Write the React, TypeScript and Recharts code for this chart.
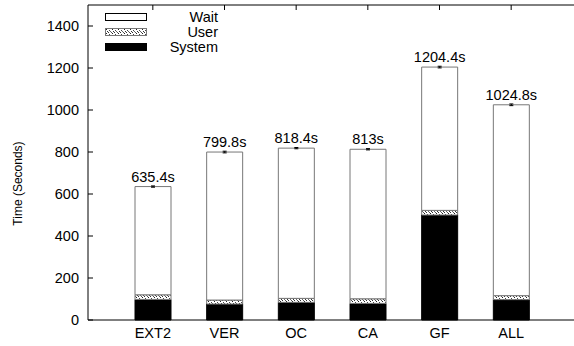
import { BarChart, Bar, XAxis, YAxis, Legend, LabelList, ErrorBar } from "recharts";

const categories = ["EXT2", "VER", "OC", "CA", "GF", "ALL"];
const totalTimes = [635.4, 799.8, 818.4, 813, 1204.4, 1024.8];
const systemTimes = [98, 76, 84, 79, 500, 97];
const userTimes = [22, 19, 19, 22, 22, 19];
const totalErrors = [3, 4, 3, 3, 4, 4];
const yTicks = [0, 200, 400, 600, 800, 1000, 1200, 1400];

const data = categories.map((name, i) => ({
  name,
  system: systemTimes[i],
  user: userTimes[i],
  wait: +(totalTimes[i] - systemTimes[i] - userTimes[i]).toFixed(1),
  total: totalTimes[i],
  err: totalErrors[i],
}));

const font = '"Liberation Sans", Arial, Helvetica, sans-serif';
const xPad = { left: 29, right: 29 };

const legendFill: Record<string, string> = {
  wait: "#fff",
  user: "url(#userDotsLegend)",
  system: "#000",
};
const legendStroke: Record<string, string> = {
  wait: "#000",
  user: "#777",
  system: "#000",
};

// speckled fill used for the "User" share
function DotPattern({ id }: { id: string }) {
  return (
    <pattern id={id} width={6} height={4} patternUnits="userSpaceOnUse">
      <rect width={6} height={4} fill="#fff" />
      <rect x={0} y={0} width={1} height={1} fill="#333" />
      <rect x={3} y={0} width={1} height={1} fill="#555" />
      <rect x={4} y={1} width={1} height={1} fill="#222" />
      <rect x={1} y={2} width={1} height={1} fill="#444" />
      <rect x={5} y={3} width={1} height={1} fill="#333" />
      <rect x={2} y={3} width={1} height={1} fill="#666" />
    </pattern>
  );
}

function LeftTick({ x, y, payload }: any) {
  return (
    <g>
      <line x1={x + 9} x2={x + 14} y1={y} y2={y} stroke="#000" />
      <text x={x} y={y} dy="0.35em" textAnchor="end" fontSize={14.5} fontFamily={font} fill="#000">
        {payload.value}
      </text>
    </g>
  );
}

function RightTick({ x, y }: any) {
  return <line x1={x - 5} x2={x} y1={y} y2={y} stroke="#000" />;
}

function TopTick({ x, y }: any) {
  return <line x1={x} x2={x} y1={y} y2={y + 5} stroke="#000" />;
}

function YTitle({ viewBox }: any) {
  const cx = viewBox.x + 17.5;
  const cy = viewBox.y + viewBox.height / 2 + 21;
  return (
    <text
      transform={`translate(${cx},${cy}) rotate(-90)`}
      textAnchor="middle"
      dy="0.35em"
      fontSize={12}
      fontFamily={font}
      fill="#000"
    >
      Time (Seconds)
    </text>
  );
}

function renderLegend({ payload }: any) {
  const items = [...(payload ?? [])].reverse();
  return (
    <svg width={230} height={60} style={{ display: "block" }}>
      <defs>
        <DotPattern id="userDotsLegend" />
      </defs>
      {items.map((item: any, i: number) => (
        <g key={item.value}>
          <rect
            x={105.5}
            y={13.5 + i * 15}
            width={41}
            height={7}
            fill={legendFill[item.dataKey]}
            stroke={legendStroke[item.dataKey]}
          />
          <text x={218} y={17 + i * 15} dy="0.35em" textAnchor="end" fontSize={14.5} fontFamily={font} fill="#000">
            {item.value}
          </text>
        </g>
      ))}
    </svg>
  );
}

export default function App() {
  return (
    <div
      style={{
        position: "fixed",
        left: 0,
        top: 0,
        width: 574,
        height: 346,
        overflow: "hidden",
        background: "#fff",
      }}
    >
      <BarChart width={577} height={346} data={data} margin={{ top: 4, right: 0, bottom: 0, left: 0 }}>
        <defs>
          <DotPattern id="userDots" />
        </defs>
        <XAxis
          xAxisId="bottom"
          dataKey="name"
          padding={xPad}
          height={26}
          tickSize={0}
          tickMargin={8}
          tickLine={false}
          axisLine={{ stroke: "#000" }}
          tick={{ fill: "#000", fontSize: 14.5, fontFamily: font }}
          interval={0}
        />
        <XAxis
          xAxisId="top"
          orientation="top"
          dataKey="name"
          padding={xPad}
          height={1}
          tickSize={0}
          tickMargin={0}
          tickLine={false}
          axisLine={{ stroke: "#000" }}
          tick={<TopTick />}
          interval={0}
        />
        <YAxis
          yAxisId="left"
          width={88}
          domain={[0, 1500]}
          ticks={yTicks}
          tickSize={0}
          tickMargin={9}
          tickLine={false}
          axisLine={{ stroke: "#000" }}
          tick={<LeftTick />}
          interval={0}
          label={<YTitle />}
        />
        <YAxis
          yAxisId="right"
          orientation="right"
          width={1}
          domain={[0, 1500]}
          ticks={yTicks}
          tickSize={0}
          tickMargin={0}
          tickLine={false}
          axisLine={{ stroke: "#000" }}
          tick={<RightTick />}
          interval={0}
        />
        <Legend
          layout="horizontal"
          verticalAlign="middle"
          align="center"
          wrapperStyle={{ top: 0, left: 0, width: 230, height: 60 }}
          content={renderLegend}
        />
        <Bar
          xAxisId="bottom"
          yAxisId="left"
          dataKey="system"
          name="System"
          stackId="t"
          barSize={36}
          fill="#000"
          stroke="#000"
          isAnimationActive={false}
        />
        <Bar
          xAxisId="bottom"
          yAxisId="left"
          dataKey="user"
          name="User"
          stackId="t"
          barSize={36}
          fill="url(#userDots)"
          stroke="#777"
          isAnimationActive={false}
        />
        <Bar
          xAxisId="bottom"
          yAxisId="left"
          dataKey="wait"
          name="Wait"
          stackId="t"
          barSize={36}
          fill="#fff"
          stroke="#777"
          isAnimationActive={false}
        >
          <ErrorBar dataKey="err" width={2} stroke="#000" strokeWidth={1} direction="y" />
          <LabelList
            dataKey="total"
            position="top"
            offset={5}
            formatter={(v: any) => `${v}s`}
            style={{ fill: "#000", fontSize: 14.5, fontFamily: font }}
          />
        </Bar>
      </BarChart>
    </div>
  );
}
